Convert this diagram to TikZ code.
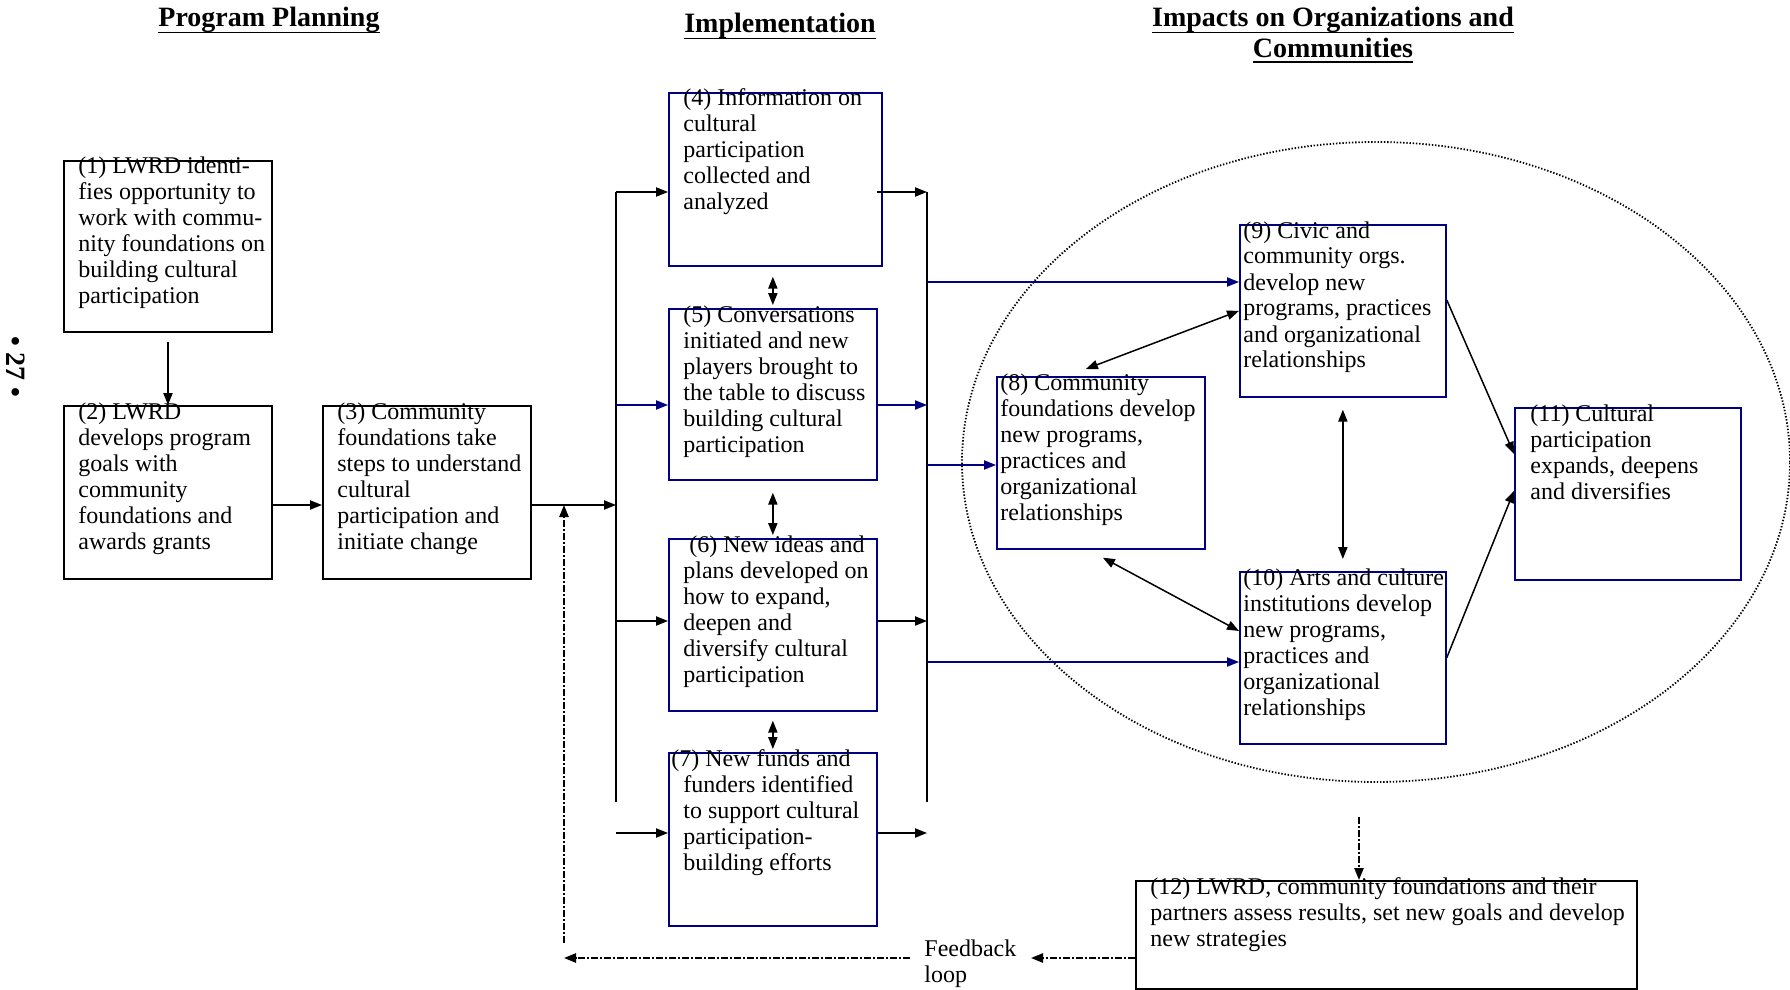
\documentclass[tikz,border=0pt]{standalone}
\usepackage{fontspec}
\setmainfont{Liberation Serif}
\usetikzlibrary{calc,arrows.meta,shapes.geometric}
\definecolor{navy}{RGB}{0,0,128}
\newcommand{\lines}[1]{\begin{tabular}[t]{@{}l@{}}#1\end{tabular}}
\newcommand{\ulx}[2]{\setbox0\hbox{#2}\rlap{\rule[-#1]{\wd0}{0.9pt}}\box0}
\tikzset{
  bbox/.style={draw=black, line width=1pt, inner sep=0pt, anchor=north west},
  ubox/.style={draw=navy, line width=0.85pt, inner sep=0pt, anchor=north west},
  txt/.style={inner sep=0pt, anchor=base west, font=\fontsize{12}{13}\selectfont},
  ttl/.style={inner sep=0pt, anchor=base, font=\fontsize{14}{15.5}\selectfont\bfseries},
  tip/.tip={Triangle[length=6pt,width=4.6pt]},
  con/.style={line width=0.75pt, -tip},
  ucon/.style={con, navy},
  dcon/.style={line width=0.75pt, tip-tip},
  bus/.style={line width=1.1pt},
  dd/.style={line width=1pt, dash pattern=on 3.5pt off 1pt on 1pt off 1pt, -tip},
}
\begin{document}
\begin{tikzpicture}[x=0.5pt,y=-0.5pt]
\useasboundingbox (0,0) rectangle (1790,990);

% titles
\node[ttl] (h1) at (269,27) {\ulx{3.2pt}{Program Planning}};
\node[ttl] (h2) at (780,33) {\ulx{3.2pt}{Implementation}};
\node[ttl] (h3) at (1333,27) {\begin{tabular}[t]{@{}c@{}}\ulx{3.2pt}{Impacts on Organizations and}\\\ulx{2.4pt}{Communities}\end{tabular}};
\node[rotate=-90, inner sep=0pt, font=\fontsize{14}{14}\selectfont\bfseries] (pg) at (16,367) {• 27 •};

% ellipse
\node[draw, ellipse, line width=0.9pt, dash pattern=on 0.7pt off 0.9pt, minimum width=414pt, minimum height=320pt, inner sep=0pt] (ell) at (1376,462) {};

% boxes
\node[bbox, minimum width=104pt, minimum height=85.5pt] (b1) at (63,160) {};
\node[bbox, minimum width=104pt, minimum height=86.5pt] (b2) at (63,405) {};
\node[bbox, minimum width=104pt, minimum height=86.5pt] (b3) at (322,405) {};
\node[ubox, minimum width=106.5pt, minimum height=86.5pt] (b4) at (668,92) {};
\node[ubox, minimum width=104pt, minimum height=85.5pt] (b5) at (668,308) {};
\node[ubox, minimum width=104pt, minimum height=86pt] (b6) at (668,538) {};
\node[ubox, minimum width=104pt, minimum height=86.5pt] (b7) at (668,752) {};
\node[ubox, minimum width=104pt, minimum height=86pt] (b8) at (996,376) {};
\node[ubox, minimum width=103pt, minimum height=86pt] (b9) at (1239,224) {};
\node[ubox, minimum width=103pt, minimum height=86pt] (b10) at (1239,571) {};
\node[ubox, minimum width=113pt, minimum height=86pt] (b11) at (1514,407) {};
\node[bbox, minimum width=250.5pt, minimum height=54pt] (b12) at (1135,880) {};

% texts
\node[txt] (t1) at ($(b1.north west)+(15,14)$) {\lines{(1) LWRD identi-\\fies opportunity to\\work with commu-\\nity foundations on\\building cultural\\participation}};
\node[txt] (t2) at ($(b2.north west)+(15,14)$) {\lines{(2) LWRD\\develops program\\goals with\\community\\foundations and\\awards grants}};
\node[txt] (t3) at ($(b3.north west)+(15,14)$) {\lines{(3) Community\\foundations take\\steps to understand\\cultural\\participation and\\initiate change}};
\node[txt] (t4) at ($(b4.north west)+(15,14)$) {\lines{(4) Information on\\cultural\\participation\\collected and\\analyzed}};
\node[txt] (t5) at ($(b5.north west)+(15,14)$) {\lines{(5) Conversations\\initiated and new\\players brought to\\the table to discuss\\building cultural\\participation}};
\node[txt] (t6) at ($(b6.north west)+(15,14)$) {\lines{\ (6) New ideas and\\plans developed on\\how to expand,\\deepen and\\diversify cultural\\participation}};
\node[txt] (t7) at ($(b7.north west)+(15,14)$) {\lines{\hspace{-6pt}(7) New funds and\\funders identified\\to support cultural\\participation-\\building efforts}};
\node[txt] (t8) at ($(b8.north west)+(4,14)$) {\lines{(8) Community\\foundations develop\\new programs,\\practices and\\organizational\\relationships}};
\node[txt] (t9) at ($(b9.north west)+(4,14)$) {\lines{(9) Civic and\\community orgs.\\develop new\\programs, practices\\and organizational\\relationships}};
\node[txt] (t10) at ($(b10.north west)+(4,14)$) {\lines{(10) Arts and culture\\institutions develop\\new programs,\\practices and\\organizational\\relationships}};
\node[txt] (t11) at ($(b11.north west)+(16,14)$) {\lines{(11) Cultural\\participation\\expands, deepens\\and diversifies}};
\node[txt] (t12) at ($(b12.north west)+(15,14)$) {\lines{(12) LWRD, community foundations and their\\partners assess results, set new goals and develop\\new strategies}};
\node[txt] (fb) at (924,956) {\lines{Feedback\\loop}};

% coordinates
\coordinate (lbT) at (616,192);
\coordinate (lbB) at (616,802);
\coordinate (rbT) at (927,192);
\coordinate (rbB) at (927,802);
\coordinate (j3) at (616,505);
\coordinate (l5) at (616,405);
\coordinate (l6) at (616,621);
\coordinate (l7) at (616,833);
\coordinate (r5) at (927,405);
\coordinate (r6) at (927,621);
\coordinate (r7) at (927,833);
\coordinate (r9) at (927,282);
\coordinate (r8) at (927,465);
\coordinate (r10) at (927,662);
\coordinate (f1) at (1031,958);
\coordinate (f2) at (910,958);
\coordinate (f3) at (564,958);
\coordinate (f4) at (564,943);

% planning
\draw[con] ($(b1.south)+(0,9)$) -- (b2.north);
\draw[con] (b2.east |- j3) -- (b3.west |- j3);
\draw[con] (b3.east |- j3) -- (j3);

% buses
\draw[bus] (lbT) -- (lbB);
\draw[bus] (rbT) -- (rbB);
\draw[con] (lbT) -- (b4.west |- lbT);
\draw[ucon] (l5) -- (b5.west |- l5);
\draw[con] (l6) -- (b6.west |- l6);
\draw[con] (l7) -- (b7.west |- l7);
\draw[con] ($(b4.east |- rbT)+(-6,0)$) -- (rbT);
\draw[ucon] (b5.east |- r5) -- (r5);
\draw[con] (b6.east |- r6) -- (r6);
\draw[con] (b7.east |- r7) -- (r7);
\draw[ucon] (r9) -- (b9.west |- r9);
\draw[ucon] (r8) -- (b8.west |- r8);
\draw[ucon] (r10) -- (b10.west |- r10);

% implementation double arrows
\draw[dcon] ($(b4.south -| b5.north)+(0,10)$) -- ($(b5.north)+(0,-3)$);
\draw[dcon] ($(b5.south)+(0,12)$) -- ($(b6.north)+(0,-3)$);
\draw[dcon] ($(b6.south)+(0,9)$) -- ($(b7.north)+(0,-3)$);

% impacts
\draw[dcon] ($(b8.north)+(-15,-7)$) -- (b9.west);
\draw[dcon] ($(b9.south)+(0,12)$) -- ($(b10.north)+(0,-12)$);
\draw[dcon] ($(b8.south)+(2,8)$) -- ($(b10.north west)+(0,60)$);
\draw[con] ($(b9.east)+(0,-11)$) -- ($(b11.west)+(0,-40)$);
\draw[con] (b10.east) -- ($(b11.west)+(0,-3)$);

% feedback
\draw[dd] ($(ell.south)+(-17,34)$) -- ($(b12.north west)+(224,0)$);
\draw[dd] (b12.west |- f1) -- (f1);
\draw[dd] (f2) -- (f3);
\draw[dd] (f4) -- (f4 |- j3);
\end{tikzpicture}
\end{document}
